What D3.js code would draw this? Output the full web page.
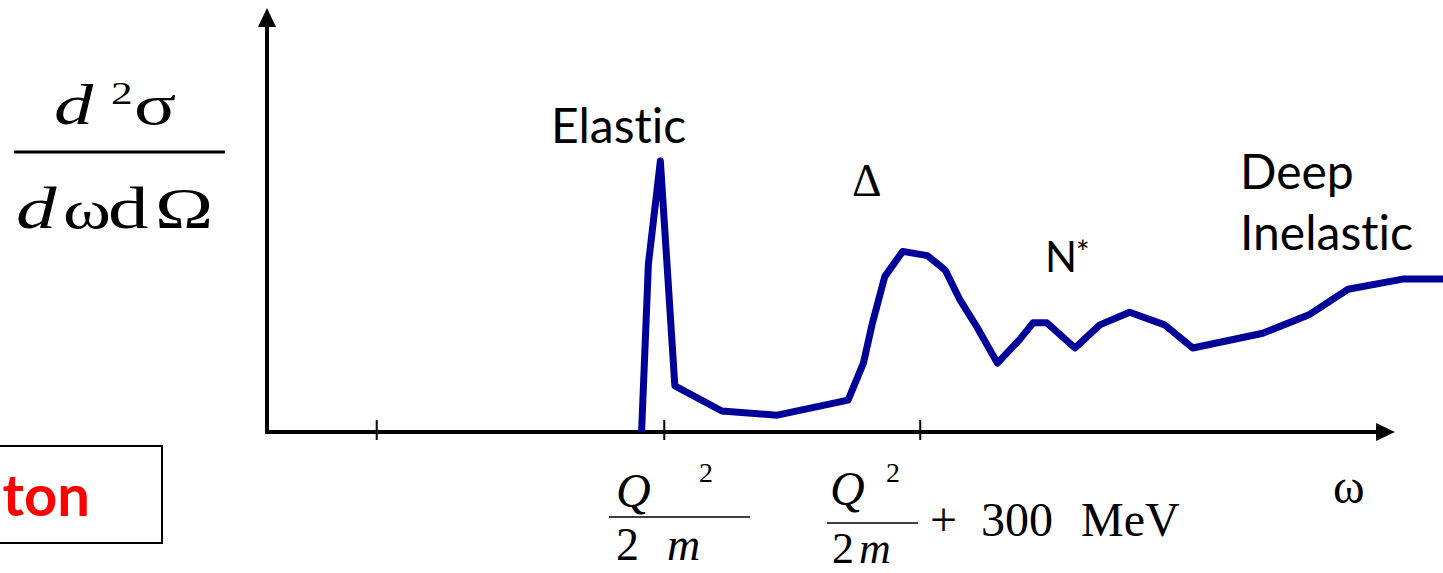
<!DOCTYPE html>
<html>
<head>
<meta charset="utf-8">
<script src="https://cdn.jsdelivr.net/npm/d3@7"></script>
<style>
  html, body { margin: 0; padding: 0; background: #fff; }
  svg { display: block; }
  .serif { font-family: "Liberation Serif", "DejaVu Serif", serif; fill: #000; }
  .sans { font-family: Lato, "Open Sans", sans-serif; fill: #000;
          font-variant-ligatures: none; font-feature-settings: "liga" 0, "clig" 0; }
</style>
</head>
<body>
<svg id="chart" width="1443" height="573"></svg>
<script>
// Energy transfer ω (MeV) and schematic cross section d²σ/dωdΩ (arbitrary units)
const omega = [439, 447, 461, 478, 533, 598, 681, 699, 709, 724, 745, 774, 795, 812, 832,
               856, 882, 898, 914, 947, 976, 1011, 1052, 1085, 1167, 1222, 1267, 1331, 1386];
const crossSection = [0, 40, 64.5, 11, 5, 4, 7.6, 16.4, 25.5, 37, 43, 42, 38.5, 31.5, 25,
                      16.4, 22, 26, 26, 20, 25.5, 28.5, 25.5, 20, 23.5, 28, 34, 36.4, 36.4];
// Tick positions on the ω axis: an arbitrary lower mark, Q²/2m, Q²/2m + 300 MeV
const tickValues = [128, 465, 765];
// Region labels placed above the curve
const regionNames = ["Elastic", "Deep", "Inelastic"];

const svg = d3.select("#chart");

const x = d3.scaleLinear().domain([0, 1322]).range([267, 1395]);
const y = d3.scaleLinear().domain([0, 100]).range([432, 12]);

const x0 = x(0), y0 = y(0);
const xEnd = x.range()[1], yTop = 8;

// ---- axes with arrowheads ----
svg.append("line")
  .attr("x1", x0).attr("y1", y0 + 2).attr("x2", x0).attr("y2", yTop + 18)
  .attr("stroke", "#000").attr("stroke-width", 4);
svg.append("path")
  .attr("d", `M${x0},${yTop} L${x0 - 9},${yTop + 19} L${x0 + 9},${yTop + 19} Z`)
  .attr("fill", "#000");

svg.append("line")
  .attr("x1", x0 - 2).attr("y1", y0).attr("x2", xEnd - 18).attr("y2", y0)
  .attr("stroke", "#000").attr("stroke-width", 4);
svg.append("path")
  .attr("d", `M${xEnd},${y0} L${xEnd - 19},${y0 - 9} L${xEnd - 19},${y0 + 9} Z`)
  .attr("fill", "#000");

// tick marks crossing the ω axis
const axis = d3.axisBottom(x).tickValues(tickValues).tickFormat("").tickSize(8);
const gAxis = svg.append("g").attr("transform", `translate(0,${y0})`).call(axis);
gAxis.select(".domain").remove();
gAxis.selectAll(".tick line")
  .attr("y1", -12).attr("y2", 8)
  .attr("stroke", "#000").attr("stroke-width", 2);

// ---- cross-section curve ----
const line = d3.line()
  .x((d, i) => x(omega[i]))
  .y((d, i) => y(crossSection[i]));
svg.append("path")
  .datum(omega)
  .attr("d", line)
  .attr("fill", "none")
  .attr("stroke", "#000099")
  .attr("stroke-width", 7)
  .attr("stroke-linejoin", "round")
  .attr("stroke-linecap", "butt");

// ---- region labels ----
svg.append("text").attr("class", "sans").attr("x", 551).attr("y", 143)
  .attr("font-size", 48).text(regionNames[0]);
svg.append("text").attr("class", "sans").attr("x", 1240).attr("y", 189)
  .attr("font-size", 48).text(regionNames[1]);
svg.append("text").attr("class", "sans").attr("x", 1240).attr("y", 250)
  .attr("font-size", 48).text(regionNames[2]);

svg.append("text").attr("class", "serif").attr("x", 852).attr("y", 196)
  .attr("font-size", 46).text("Δ");

svg.append("text").attr("class", "sans").attr("x", 1045).attr("y", 272)
  .attr("font-size", 42).text("N");
svg.append("text").attr("class", "sans").attr("x", 1076).attr("y", 264)
  .attr("font-size", 32).text("*");

// ---- y-axis quantity d²σ / dωdΩ (wide equation lettering) ----
const yl = svg.append("g").attr("class", "serif");
function glyph(g, txt, gx, gy, size, italic) {
  g.append("text")
    .attr("transform", `translate(${gx},${gy}) scale(1.35,1)`)
    .attr("font-size", size)
    .attr("font-style", italic ? "italic" : "normal")
    .text(txt);
}
glyph(yl, "d", 54, 124, 58, true);
glyph(yl, "2", 111, 104, 32, false);
glyph(yl, "σ", 134, 124, 58, false);
yl.append("line").attr("x1", 14).attr("x2", 225).attr("y1", 152).attr("y2", 152)
  .attr("stroke", "#000").attr("stroke-width", 3);
glyph(yl, "d", 16, 228, 60, true);
glyph(yl, "ω", 63, 228, 54, false);
glyph(yl, "d", 108, 228, 60, false);
glyph(yl, "Ω", 155, 228, 58, false);

// ---- tick labels under the ω axis ----
const tl = svg.append("g").attr("class", "serif");
// Q²/2m
tl.append("text").attr("x", 616).attr("y", 507).attr("font-size", 48)
  .attr("font-style", "italic").text("Q");
tl.append("text").attr("x", 699).attr("y", 482).attr("font-size", 28).text("2");
tl.append("line").attr("x1", 609).attr("x2", 750).attr("y1", 517).attr("y2", 517)
  .attr("stroke", "#000").attr("stroke-width", 1.5);
tl.append("text").attr("x", 616).attr("y", 560).attr("font-size", 46).text("2");
tl.append("text").attr("x", 667).attr("y", 560).attr("font-size", 46)
  .attr("font-style", "italic").text("m");
// Q²/2m + 300 MeV
tl.append("text").attr("x", 830).attr("y", 505).attr("font-size", 48)
  .attr("font-style", "italic").text("Q");
tl.append("text").attr("x", 886).attr("y", 482).attr("font-size", 28).text("2");
tl.append("line").attr("x1", 827).attr("x2", 918).attr("y1", 523).attr("y2", 523)
  .attr("stroke", "#000").attr("stroke-width", 1.5);
tl.append("text").attr("x", 832).attr("y", 563).attr("font-size", 44).text("2");
tl.append("text").attr("x", 859).attr("y", 563).attr("font-size", 44)
  .attr("font-style", "italic").text("m");
tl.append("text").attr("x", 930).attr("y", 536).attr("font-size", 48).text("+");
tl.append("text").attr("x", 981).attr("y", 536).attr("font-size", 48).text("300");
tl.append("text").attr("x", 1081).attr("y", 536).attr("font-size", 48).text("MeV");

// axis name ω
svg.append("text").attr("class", "serif").attr("x", 1333).attr("y", 503)
  .attr("font-size", 48).text("ω");

// ---- boxed label at lower left ----
svg.append("rect").attr("x", -10).attr("y", 446).attr("width", 172).attr("height", 97)
  .attr("fill", "#fff").attr("stroke", "#000").attr("stroke-width", 2);
svg.append("text").attr("class", "sans").attr("x", 90).attr("y", 516)
  .attr("text-anchor", "end").attr("font-size", 58).attr("font-weight", "bold")
  .style("fill", "#ff0000").text("ton");
</script>
</body>
</html>
